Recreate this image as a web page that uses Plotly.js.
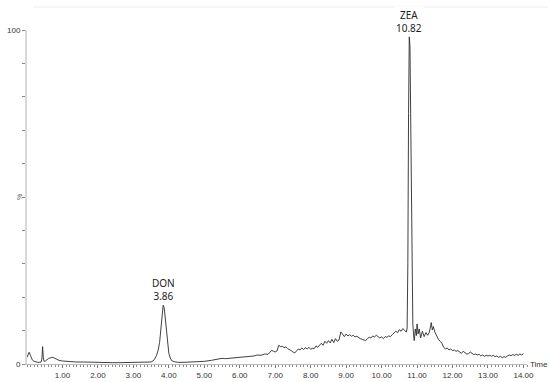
<!DOCTYPE html>
<html>
<head>
<meta charset="utf-8">
<script src="https://cdn.plot.ly/plotly-3.0.1.min.js"></script>
<style>html,body{margin:0;padding:0;background:#fff;}#chart{width:550px;height:382px;}</style>
</head>
<body>
<div id="chart"></div>
<script>
// Retention time (min)
var time = [
0.00,0.03,0.06,0.10,0.15,0.20,0.25,0.30,0.35,0.40,0.42,0.44,0.46,0.48,0.52,0.56,0.60,0.65,0.70,0.75,0.80,0.85,0.90,
1.00,1.10,1.20,1.40,1.60,1.80,2.00,2.20,2.40,2.60,2.80,3.00,3.20,3.40,3.50,3.55,3.60,3.65,3.70,3.74,3.78,3.81,3.84,
3.87,3.90,3.93,3.96,4.00,4.04,4.08,4.15,4.25,4.40,4.60,4.80,5.00,5.20,5.40,5.50,5.60,5.80,6.00,6.20,6.40,6.50,6.60,
6.70,6.80,6.85,6.90,6.95,7.00,7.05,7.10,7.15,7.20,7.25,7.30,7.35,7.40,7.45,7.50,7.55,7.60,7.65,7.70,7.75,7.80,7.85,
7.90,7.95,8.00,8.05,8.10,8.15,8.20,8.25,8.30,8.35,8.40,8.45,8.50,8.55,8.60,8.65,8.70,8.75,8.80,8.85,8.90,8.95,9.00,
9.05,9.10,9.15,9.20,9.25,9.30,9.35,9.40,9.45,9.50,9.55,9.60,9.65,9.70,9.75,9.80,9.85,9.90,9.95,10.00,10.05,10.10,
10.15,10.20,10.25,10.30,10.35,10.40,10.45,10.50,10.55,10.60,10.65,10.70,10.72,10.74,10.76,10.78,10.80,10.82,10.84,
10.86,10.88,10.90,10.92,10.95,10.98,11.00,11.03,11.06,11.10,11.15,11.20,11.25,11.30,11.35,11.40,11.43,11.46,11.50,
11.55,11.60,11.65,11.70,11.75,11.80,11.85,11.90,11.95,12.00,12.05,12.10,12.15,12.20,12.25,12.30,12.35,12.40,12.45,
12.50,12.55,12.60,12.65,12.70,12.75,12.80,12.85,12.90,12.95,13.00,13.05,13.10,13.15,13.20,13.25,13.30,13.35,13.40,
13.45,13.50,13.55,13.60,13.65,13.70,13.75,13.80,13.85,13.90,13.95,14.00
];
// Relative intensity (%)
var intensity = [
2.0,3.0,3.5,2.5,1.2,0.8,0.6,0.5,0.5,0.6,1.5,5.2,2.0,0.8,0.9,1.3,1.6,1.8,2.0,1.9,1.6,1.3,1.1,
0.9,0.8,0.7,0.6,0.6,0.5,0.5,0.5,0.4,0.4,0.4,0.4,0.4,0.5,0.6,0.9,1.5,2.5,4.2,6.5,10.5,14.5,17.6,
16.8,13.5,9.5,6.0,3.2,1.8,1.0,0.7,0.5,0.5,0.6,0.6,0.8,1.1,1.4,1.7,1.6,1.8,1.9,2.2,2.4,2.7,2.6,
3.0,2.9,3.5,4.1,3.8,3.6,3.9,5.6,5.2,5.3,4.9,5.1,4.6,4.4,4.0,3.6,3.3,3.9,4.5,4.2,4.8,4.3,4.9,
4.5,5.0,4.4,4.7,4.6,5.4,5.0,5.8,6.2,5.6,6.8,6.2,7.0,6.3,7.4,6.4,7.6,6.8,7.2,9.6,8.8,8.2,9.0,
8.4,8.8,8.3,8.6,8.1,8.3,7.9,7.6,7.4,7.2,7.0,7.6,8.0,7.8,8.4,8.1,8.6,8.2,7.8,8.1,7.6,8.2,
8.0,8.4,8.2,8.8,9.2,9.8,9.4,10.3,9.8,10.6,10.0,9.6,10.8,30.0,75.0,98.0,95.0,70.0,40.0,
20.0,12.0,9.0,7.0,10.5,8.5,12.0,9.0,10.5,7.8,9.8,8.2,9.4,8.6,9.6,12.4,10.2,11.2,9.6,
8.4,7.4,6.8,6.2,5.0,4.5,4.8,4.2,4.5,4.0,4.2,3.8,4.0,3.6,3.2,3.8,3.4,3.0,3.1,
3.6,3.2,2.8,3.0,2.7,2.9,2.4,2.7,2.3,2.6,2.4,2.6,2.3,2.6,2.2,2.4,2.0,2.3,1.9,
2.2,2.0,2.4,2.7,2.5,2.8,2.6,2.9,2.6,3.0,2.7,3.1
];
var xTickVals = [1,2,3,4,5,6,7,8,9,10,11,12,13,14];
var yTickVals = [0,10,20,30,40,50,60,70,80,90,100];
var yTickText = ['0','','','','','','','','','','100'];
var peakNames = ['DON','ZEA'];
var peakTimes = [3.84, 10.78];
var peakHeights = [17.6, 98.0];
var peakLabels = ['3.86','10.82'];

var annotations = peakNames.map(function(n, i){
  return {x: peakTimes[i], y: peakHeights[i], xref:'x', yref:'y', yshift: 0,
    text: n + '<br>' + peakLabels[i], showarrow:false, xanchor:'center', yanchor:'bottom',
    bgcolor:'#ffffff', font:{family:'Noto Sans, Liberation Sans, sans-serif', size:10, color:'#222'}};
});
annotations.push({x:1.002, y:0, xref:'paper', yref:'paper', text:'Time', showarrow:false,
  xanchor:'left', yanchor:'middle', font:{family:'Liberation Sans, Arial, sans-serif', size:8, color:'#333'}});
annotations.push({x:-0.016, y:0.5, xref:'paper', yref:'paper', text:'%', showarrow:false, textangle:-90,
  xanchor:'center', yanchor:'middle', font:{family:'Liberation Sans, Arial, sans-serif', size:7, color:'#666'}});

var trace = {x: time, y: intensity, type:'scatter', mode:'lines',
  line:{color:'#2a2a2a', width:0.9}, hoverinfo:'skip'};

var layout = {
  width:550, height:382,
  margin:{l:27, r:23, t:30, b:18},
  paper_bgcolor:'#fff', plot_bgcolor:'#fff',
  showlegend:false,
  xaxis:{range:[0,14.1], tickvals:xTickVals, tickformat:'.2f', ticks:'outside', ticklen:3, tickcolor:'#777',
    tickfont:{family:'Liberation Sans, Arial, sans-serif', size:8, color:'#333'},
    showline:true, linecolor:'#bbb', linewidth:1, showgrid:false, zeroline:false,
    minor:{dtick:0.1, ticks:'outside', ticklen:2, tickcolor:'#888', showgrid:false}},
  yaxis:{range:[0,100], tickvals:yTickVals, ticktext:yTickText, ticks:'outside', ticklen:3, tickcolor:'#888',
    tickfont:{family:'Liberation Sans, Arial, sans-serif', size:8, color:'#333'},
    showline:true, linecolor:'#d8d8d8', linewidth:2, showgrid:false, zeroline:false},
  shapes:[{type:'line', xref:'paper', yref:'paper', x0:0.012, x1:1.042, y0:1.069, y1:1.069,
    line:{color:'#ececec', width:1}, layer:'below'}],
  annotations: annotations
};
Plotly.newPlot('chart', [trace], layout, {displayModeBar:false, staticPlot:true});
</script>
</body>
</html>
